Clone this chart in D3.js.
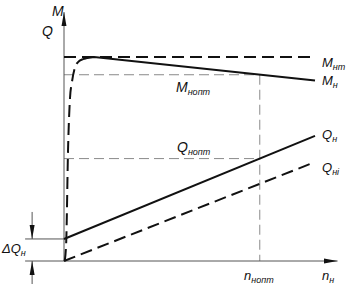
<!DOCTYPE html>
<html>
<head>
<meta charset="utf-8">
<script src="https://cdn.jsdelivr.net/npm/d3@7"></script>
<style>
  body { margin: 0; background: #fff; }
  text { font-family: "Liberation Sans", Arial, sans-serif; font-style: italic; fill: #111; }
</style>
</head>
<body>
<div class="chart"></div>
<script>
// pump speed n (0..100 = right end of curves), M and Q in % of M_нт
const nEnds = [0, 100];
const mNt = [100, 100];
const mN = [[8, 99.2], [12, 100], [100, 88.5]];
const startCurve = [[0.3, 0], [0.9, 10], [1.6, 54], [2.4, 80], [3.2, 88], [4.4, 95], [5.6, 97.5], [7.6, 99], [9.6, 99.7], [12, 100]];
const qN = [10.8, 61.3];
const qNi = [0, 48.5];
const nOpt = 78, mOpt = 91.3, qOpt = 50.2;
const nMax = 109, yMax = 122;

const width = 355, height = 286;

const svg = d3.select(".chart").append("svg")
  .attr("width", width).attr("height", height);

const x = d3.scaleLinear().domain([0, 100]).range([64, 315]);
const y = d3.scaleLinear().domain([0, 100]).range([261, 57]);

const defs = svg.append("defs");
defs.append("marker")
  .attr("id", "arr").attr("viewBox", "0 0 14 6")
  .attr("refX", 14).attr("refY", 3)
  .attr("markerWidth", 14).attr("markerHeight", 6)
  .attr("markerUnits", "userSpaceOnUse")
  .attr("orient", "auto")
  .append("path").attr("d", "M0,0.5 L14,3 L0,5.5 Z").attr("fill", "#111");

const line = d3.line().x(d => x(d[0])).y(d => y(d[1]));
const curve = d3.line().x(d => x(d[0])).y(d => y(d[1])).curve(d3.curveMonotoneX);

// reference (optimum) lines
const ref = svg.append("g").attr("stroke", "#8a8a8a").attr("stroke-width", 1)
  .attr("stroke-dasharray", "10,5").attr("fill", "none");
ref.append("path").attr("d", line([[0, mOpt], [nOpt, mOpt]]));
ref.append("path").attr("d", line([[0, qOpt], [nOpt, qOpt]]));
ref.append("path").attr("d", line([[nOpt, mOpt], [nOpt, 0]]));

// axes
const ax = svg.append("g").attr("stroke", "#555").attr("stroke-width", 1).attr("fill", "none");
ax.append("path").attr("d", line([[0, 0], [0, yMax]])).attr("marker-end", "url(#arr)");
ax.append("path").attr("d", line([[-15.5, 0], [nMax, 0]])).attr("marker-end", "url(#arr)");
ax.append("path").attr("d", line([[-15.5, qN[0]], [0, qN[0]]]));

// ΔQ dimension arrows
const dimX = x(-12.7);
ax.append("line").attr("x1", dimX).attr("x2", dimX)
  .attr("y1", y(qN[0]) - 27).attr("y2", y(qN[0])).attr("marker-end", "url(#arr)");
ax.append("line").attr("x1", dimX).attr("x2", dimX)
  .attr("y1", y(0) + 23).attr("y2", y(0)).attr("marker-end", "url(#arr)");

// curves
const lines = svg.append("g").attr("fill", "none").attr("stroke", "#111").attr("stroke-width", 2);
lines.append("path").attr("d", line(nEnds.map((n, i) => [n, mNt[i]])))
  .attr("stroke-dasharray", "12,6");
lines.append("path").attr("d", curve(startCurve)).attr("stroke-dasharray", "12,6");
lines.append("path").attr("d", line(mN));
lines.append("path").attr("d", line(nEnds.map((n, i) => [n, qN[i]])));
lines.append("path").attr("d", line(nEnds.map((n, i) => [n, qNi[i]])))
  .attr("stroke-dasharray", "12,6");

// labels
const labels = [
  { t: "M", s: "", x: 52, y: 16, f: 14 },
  { t: "Q", s: "", x: 42, y: 36, f: 14 },
  { t: "M", s: "нт", x: 322, y: 67, f: 13 },
  { t: "M", s: "н", x: 322, y: 85, f: 13 },
  { t: "M", s: "нопт", x: 176, y: 92, f: 14 },
  { t: "Q", s: "н", x: 322, y: 139, f: 13 },
  { t: "Q", s: "нi", x: 322, y: 172, f: 13 },
  { t: "Q", s: "нопт", x: 177, y: 152, f: 14 },
  { t: "ΔQ", s: "н", x: 2, y: 253, f: 13 },
  { t: "n", s: "нопт", x: 244, y: 280, f: 13 },
  { t: "n", s: "н", x: 322, y: 280, f: 13 }
];

const lab = svg.append("g").selectAll("text").data(labels).enter().append("text")
  .attr("x", d => d.x).attr("y", d => d.y)
  .style("font-size", d => d.f + "px");
lab.append("tspan").text(d => d.t);
lab.append("tspan").attr("dy", 3).style("font-size", "9px").text(d => d.s);
</script>
</body>
</html>
